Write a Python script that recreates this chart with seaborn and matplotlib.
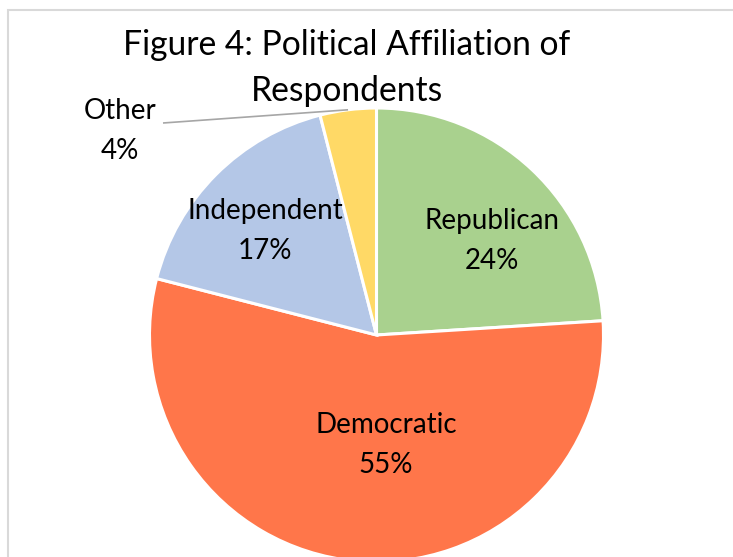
import numpy as np
import matplotlib
matplotlib.use("Agg")
import matplotlib.pyplot as plt
from matplotlib.patches import Rectangle
import seaborn as sns

# Survey results
parties = ["Republican", "Democratic", "Independent", "Other"]
shares = [24, 55, 17, 4]
colors = ["#A9D18E", "#FF764A", "#B4C7E7", "#FFD966"]
title = "Figure 4: Political Affiliation of\nRespondents"

sns.set_theme(style="white")
plt.rcParams["font.family"] = ["Lato", "DejaVu Sans"]

W, H = 733, 557
fig = plt.figure(figsize=(W / 100, H / 100), dpi=100)
ax = fig.add_axes([0, 0, 1, 1])

# work in pixel-like units, y measured upward
cx, cy, r = 376.5, H - 335, 227

wedges, _ = ax.pie(
    shares,
    colors=sns.color_palette(colors),
    startangle=90,
    counterclock=False,
    center=(cx, cy),
    radius=r,
    wedgeprops=dict(edgecolor="white", linewidth=2.2),
)
ax.set_xlim(0, W)
ax.set_ylim(0, H)
ax.set_aspect("equal")
ax.axis("off")

# chart frame
ax.add_patch(Rectangle((8, -20), W + 20, H - 10 + 20, fill=False,
                       edgecolor="#D9D9D9", linewidth=1.5, zorder=0))

label_fs = 20
# inside labels: (x, y) in image pixels
inside_pos = {
    "Republican": (492, 241),
    "Democratic": (386, 445),
    "Independent": (265, 231),
}
for name, val in zip(parties, shares):
    if name in inside_pos:
        x, y = inside_pos[name]
        ax.text(x, H - y, f"{name}\n{val}%", ha="center", va="center",
                fontsize=label_fs, color="black", linespacing=1.62)

# outside label for the small slice with a leader line
w = wedges[3]
mid = np.deg2rad((w.theta1 + w.theta2) / 2)
ex, ey = cx + r * np.cos(mid), cy + r * np.sin(mid)
ax.plot([163, 177, ex], [H - 123, H - 122, ey], color="#A6A6A6", lw=1.2,
        solid_capstyle="butt")
ax.text(120, H - 131, f"{parties[3]}\n{shares[3]}%", ha="center", va="center",
        fontsize=label_fs, color="black", linespacing=1.62)

ax.text(347, H - 68, title, ha="center", va="center", fontsize=24.2,
        color="black", linespacing=1.56)

fig.savefig("out.png", dpi=100)
